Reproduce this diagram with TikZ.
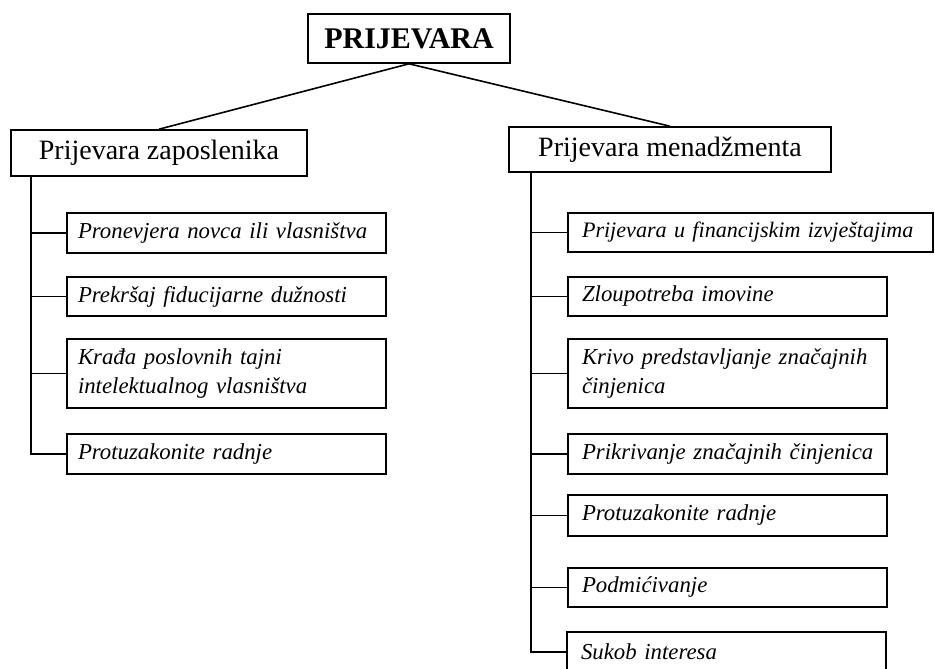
\documentclass[tikz,border=0pt]{standalone}
\usepackage{fontspec}
\setmainfont{Liberation Serif}
\newcommand\oneline[1]{\makebox[0pt][l]{#1}}
\begin{document}
\begin{tikzpicture}[x=1pt,y=-1pt,
  every node/.style={draw, line width=1.6pt, inner sep=0pt},
  topbox/.style={minimum width=202pt, minimum height=49pt, font=\fontsize{30}{32}\selectfont\bfseries},
  midbox/.style={minimum height=46pt, font=\fontsize{28}{30}\selectfont},
  subbox/.style={minimum height=40pt, align=left, font=\fontsize{22.8}{28.5}\selectfont\itshape},
  lsub/.style={subbox, minimum width=319pt, text width=297pt},
  rsub/.style={subbox, minimum width=319pt, text width=291pt},
  conn/.style={line width=1.6pt}]
\useasboundingbox (0,0) rectangle (935,669);
\node[topbox] (top) at (409,38.5) {PRIJEVARA};
\node[midbox, minimum width=296pt] (zap) at (159,153) {Prijevara zaposlenika};
\node[midbox, minimum width=322pt, minimum height=45pt] (men) at (670,149.5) {Prijevara menadžmenta};

\node[lsub] (L1) at (226.5,233) {\oneline{Pronevjera novca ili vlasništva}};
\node[lsub, minimum height=39pt] (L2) at (226.5,296.5) {\oneline{Prekršaj fiducijarne dužnosti}};
\node[lsub, minimum height=69pt] (L3) at (226.5,373.5) {\oneline{Krađa poslovnih tajni}\\\oneline{intelektualnog vlasništva}};
\node[lsub] (L4) at (226.5,454) {\oneline{Protuzakonite radnje}};

\node[rsub, minimum width=365pt, text width=337pt, minimum height=39pt, font=\fontsize{22.1}{28.5}\selectfont\itshape] (R1) at (750.5,232.5) {\oneline{Prijevara u financijskim izvještajima}};
\node[rsub, minimum height=39pt] (R2) at (727.5,296.5) {\oneline{Zloupotreba imovine}};
\node[rsub, minimum height=69pt] (R3) at (727.5,373.5) {\oneline{Krivo predstavljanje značajnih}\\\oneline{činjenica}};
\node[rsub] (R4) at (727.5,454) {\oneline{Prikrivanje značajnih činjenica}};
\node[rsub, minimum height=41pt] (R5) at (727.5,515.5) {\oneline{Protuzakonite radnje}};
\node[rsub, minimum height=39pt] (R6) at (727.5,587.5) {\oneline{Podmićivanje}};
\node[rsub] (R7) at (726.5,652) {\oneline{Sukob interesa}};

\draw[conn] (top.south) -- (zap.north);
\draw[conn] (top.south) -- (men.north);

\coordinate (ls) at (31,176);
\coordinate (rs) at (531,172);
\draw[conn] (ls) |- (L4.west);
\foreach \n in {L1,L2,L3} \draw[conn] (\n.west) -- (\n.west -| ls);
\draw[conn] (rs) |- (R7.west);
\foreach \n in {R1,R2,R3,R4,R5,R6} \draw[conn] (\n.west) -- (\n.west -| rs);
\end{tikzpicture}
\end{document}
